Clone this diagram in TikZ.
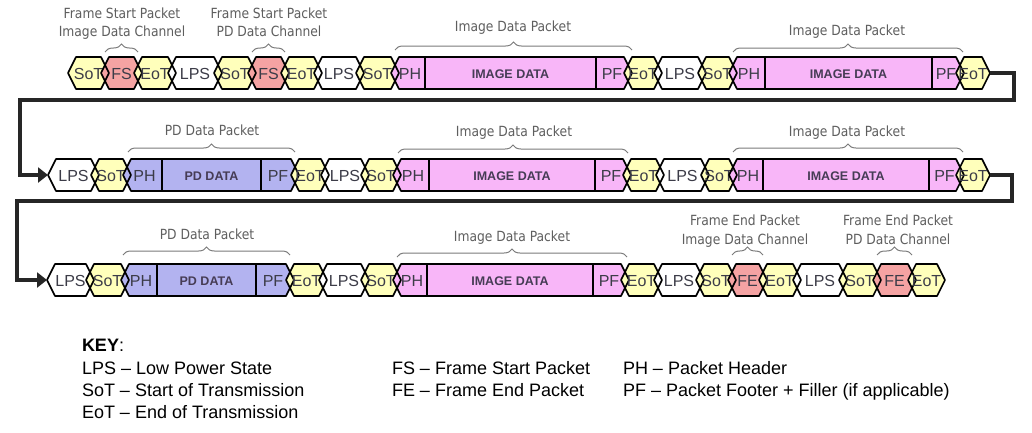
\documentclass[tikz,border=0pt]{standalone}
\usepackage{fontspec}
\setmainfont{Liberation Sans}
\newfontfamily\lblfont{DejaVu Sans}[FakeStretch=0.88]
\usetikzlibrary{arrows.meta,decorations.pathreplacing}

\definecolor{sotfill}{HTML}{FFFFBB}
\definecolor{fsfill}{HTML}{F5A3A3}
\definecolor{imgfill}{HTML}{F8B6F8}
\definecolor{pdfill}{HTML}{B3B3F0}
\definecolor{celltxt}{HTML}{3C3C48}
\definecolor{datatxt}{HTML}{463C55}
\definecolor{lblgray}{HTML}{5E5E5E}
\definecolor{bracegray}{HTML}{7A7A7A}
\definecolor{wirecol}{HTML}{262626}

\pgfdeclarelayer{cellfill}
\pgfsetlayers{cellfill,main}

\def \globalscale {1.000000}

% #1 name, #2 style, #3 left, #4 right, #5 row
\newcommand{\hexcell}[6]{%
  \begin{pgfonlayer}{cellfill}
    \path[#2,draw=none] (#3-4,#5) -- (#3+4,#5-16) -- (#4-4,#5-16) -- (#4+4,#5) -- (#4-4,#5+16) -- (#3+4,#5+16) -- cycle;
  \end{pgfonlayer}
  \path[#2,fill=none] (#3-4,#5) -- (#3+4,#5-16) -- (#4-4,#5-16) -- (#4+4,#5) -- (#4-4,#5+16) -- (#3+4,#5+16) -- cycle;
  \node[celltext] (#1) at ({(#3+#4)/2},#5+1) {#6};
}

% #1 name, #2 style, #3 left, #4 PH|data, #5 data|PF, #6 right, #7 row
\newcommand{\pktcell}[8]{%
  \begin{pgfonlayer}{cellfill}
    \path[#2,draw=none] (#3-4,#7) -- (#3+4,#7-16) -- (#6-4,#7-16) -- (#6+4,#7) -- (#6-4,#7+16) -- (#3+4,#7+16) -- cycle;
  \end{pgfonlayer}
  \path[#2,fill=none] (#3-4,#7) -- (#3+4,#7-16) -- (#6-4,#7-16) -- (#6+4,#7) -- (#6-4,#7+16) -- (#3+4,#7+16) -- cycle;
  \path[#2,datarect] (#4,#7-16) rectangle (#5,#7+16);
  \node[celltext] (#1h) at ({(#3+#4)/2},#7+1) {PH};
  \node[datatext] (#1d) at ({(#4+#5)/2},#7+1) {#8};
  \node[celltext] (#1f) at ({(#5+#6)/2},#7+1) {PF};
}

\begin{document}
\begin{tikzpicture}[y=1pt, x=1pt, yscale=-\globalscale, xscale=\globalscale, inner sep=0pt, outer sep=0pt,
  cellbox/.style={draw=black, line width=1.6pt, line join=round},
  lpscell/.style={cellbox, fill=white},
  sotcell/.style={cellbox, fill=sotfill},
  fscell/.style={cellbox, fill=fsfill},
  imgcell/.style={cellbox, fill=imgfill},
  pdcell/.style={cellbox, fill=pdfill},
  datarect/.style={draw=black, line width=2.6pt, line join=miter},
  celltext/.style={font=\fontsize{16}{19}\selectfont, text=celltxt},
  datatext/.style={font=\fontsize{12.5}{15}\selectfont\bfseries, text=datatxt},
  plabel/.style={font=\lblfont\fontsize{14}{18.5}\selectfont, text=lblgray, align=center},
  pbrace/.style={draw=bracegray, line width=1pt, decorate, decoration={brace, amplitude=8pt}},
  keytext/.style={font=\fontsize{18}{21}\selectfont, anchor=base west},
  wire/.style={draw=wirecol, line width=4.5pt, -{Triangle[length=10pt,width=15pt]}}]
\useasboundingbox (0,0) rectangle (1032,432);


\hexcell{r1sot1}{sotcell}{72}{105}{73}{SoT}
\hexcell{r1fs1}{fscell}{105}{138}{73}{FS}
\hexcell{r1eot1}{sotcell}{138}{172}{73}{EoT}
\hexcell{r1lps1}{lpscell}{172}{218}{73}{LPS}
\hexcell{r1sot2}{sotcell}{218}{252}{73}{SoT}
\hexcell{r1fs2}{fscell}{252}{285}{73}{FS}
\hexcell{r1eot2}{sotcell}{285}{318}{73}{EoT}
\hexcell{r1lps2}{lpscell}{318}{360}{73}{LPS}
\hexcell{r1sot3}{sotcell}{360}{395}{73}{SoT}
\pktcell{r1img1}{imgcell}{395}{425}{596}{628}{73}{IMAGE DATA}
\hexcell{r1eot3}{sotcell}{628}{658}{73}{EoT}
\hexcell{r1lps3}{lpscell}{658}{702}{73}{LPS}
\hexcell{r1sot4}{sotcell}{702}{733}{73}{SoT}
\pktcell{r1img2}{imgcell}{733}{765}{932}{960}{73}{IMAGE DATA}
\hexcell{r1eot4}{sotcell}{960}{986}{73}{EoT}


\hexcell{r2lps1}{lpscell}{52}{95}{175}{LPS}
\hexcell{r2sot1}{sotcell}{95}{127}{175}{SoT}
\pktcell{r2pd1}{pdcell}{127}{162}{261}{295}{175}{PD DATA}
\hexcell{r2eot1}{sotcell}{295}{325}{175}{EoT}
\hexcell{r2lps2}{lpscell}{325}{365}{175}{LPS}
\hexcell{r2sot2}{sotcell}{365}{397}{175}{SoT}
\pktcell{r2img1}{imgcell}{397}{429}{595}{627}{175}{IMAGE DATA}
\hexcell{r2eot2}{sotcell}{627}{660}{175}{EoT}
\hexcell{r2lps3}{lpscell}{660}{705}{175}{LPS}
\hexcell{r2sot3}{sotcell}{705}{733}{175}{SoT}
\pktcell{r2img2}{imgcell}{733}{763}{929}{960}{175}{IMAGE DATA}
\hexcell{r2eot3}{sotcell}{960}{986}{175}{EoT}


\hexcell{r3lps1}{lpscell}{51}{90}{280}{LPS}
\hexcell{r3sot1}{sotcell}{90}{125}{280}{SoT}
\pktcell{r3pd1}{pdcell}{125}{157}{256}{290}{280}{PD DATA}
\hexcell{r3eot1}{sotcell}{290}{323}{280}{EoT}
\hexcell{r3lps2}{lpscell}{323}{365}{280}{LPS}
\hexcell{r3sot2}{sotcell}{365}{397}{280}{SoT}
\pktcell{r3img1}{imgcell}{397}{427}{593}{625}{280}{IMAGE DATA}
\hexcell{r3eot2}{sotcell}{625}{658}{280}{EoT}
\hexcell{r3lps3}{lpscell}{658}{700}{280}{LPS}
\hexcell{r3sot3}{sotcell}{700}{732}{280}{SoT}
\hexcell{r3fe1}{fscell}{732}{763}{280}{FE}
\hexcell{r3eot3}{sotcell}{763}{797}{280}{EoT}
\hexcell{r3lps4}{lpscell}{797}{843}{280}{LPS}
\hexcell{r3sot4}{sotcell}{843}{877}{280}{SoT}
\hexcell{r3fe2}{fscell}{877}{912}{280}{FE}
\hexcell{r3eot4}{sotcell}{912}{941}{280}{EoT}


\coordinate (r1out) at (990,73);
\coordinate (r2in) at (48,175);
\coordinate (r2out) at (990,175);
\coordinate (r3in) at (47,280);
\path[wire] (r1out) -| (1014,100) -| (20,175) -- (r2in);
\path[wire] (r2out) -| (1012,201) -| (17,280) -- (r3in);


\path[pbrace] (105,52) -- (138,52);
\path[pbrace] (252,52) -- (285,52);
\path[pbrace] (395,50) -- (632,50);
\path[pbrace] (733,52) -- (963,52);
\path[pbrace] (128,152) -- (295,152);
\path[pbrace] (398,153) -- (628,153);
\path[pbrace] (733,152) -- (963,152);
\path[pbrace] (123,255) -- (290,255);
\path[pbrace] (397,257) -- (627,257);
\path[pbrace] (732,255) -- (763,255);
\path[pbrace] (877,255) -- (912,255);


\node[plabel, anchor=base] (lblfs1) at (122,36.7) {Frame Start Packet\\Image Data Channel};
\node[plabel, anchor=base] (lblfs2) at (269,36.7) {Frame Start Packet\\PD Data Channel};
\node[plabel, anchor=base] (lblimg1) at (513,31.5) {Image Data Packet};
\node[plabel, anchor=base] (lblimg2) at (847,35) {Image Data Packet};
\node[plabel, anchor=base] (lblpd2) at (212,135) {PD Data Packet};
\node[plabel, anchor=base] (lblimg3) at (514,136.5) {Image Data Packet};
\node[plabel, anchor=base] (lblimg4) at (847,136) {Image Data Packet};
\node[plabel, anchor=base] (lblpd3) at (207,239) {PD Data Packet};
\node[plabel, anchor=base] (lblimg5) at (512,241.5) {Image Data Packet};
\node[plabel, anchor=base] (lblfe1) at (745,244) {Frame End Packet\\Image Data Channel};
\node[plabel, anchor=base] (lblfe2) at (898,244) {Frame End Packet\\PD Data Channel};


\node[keytext] (keyhead) at (82,351.5) {\textbf{KEY}:};
\node[keytext] (keylps) at (82,374) {LPS – Low Power State};
\node[keytext] (keysot) at (82,396) {SoT – Start of Transmission};
\node[keytext] (keyeot) at (82,418) {EoT – End of Transmission};
\node[keytext] (keyfs) at (392,374) {FS – Frame Start Packet};
\node[keytext] (keyfe) at (392,396) {FE – Frame End Packet};
\node[keytext] (keyph) at (623,374) {PH – Packet Header};
\node[keytext] (keypf) at (623,396) {PF – Packet Footer + Filler (if applicable)};

\end{tikzpicture}
\end{document}
